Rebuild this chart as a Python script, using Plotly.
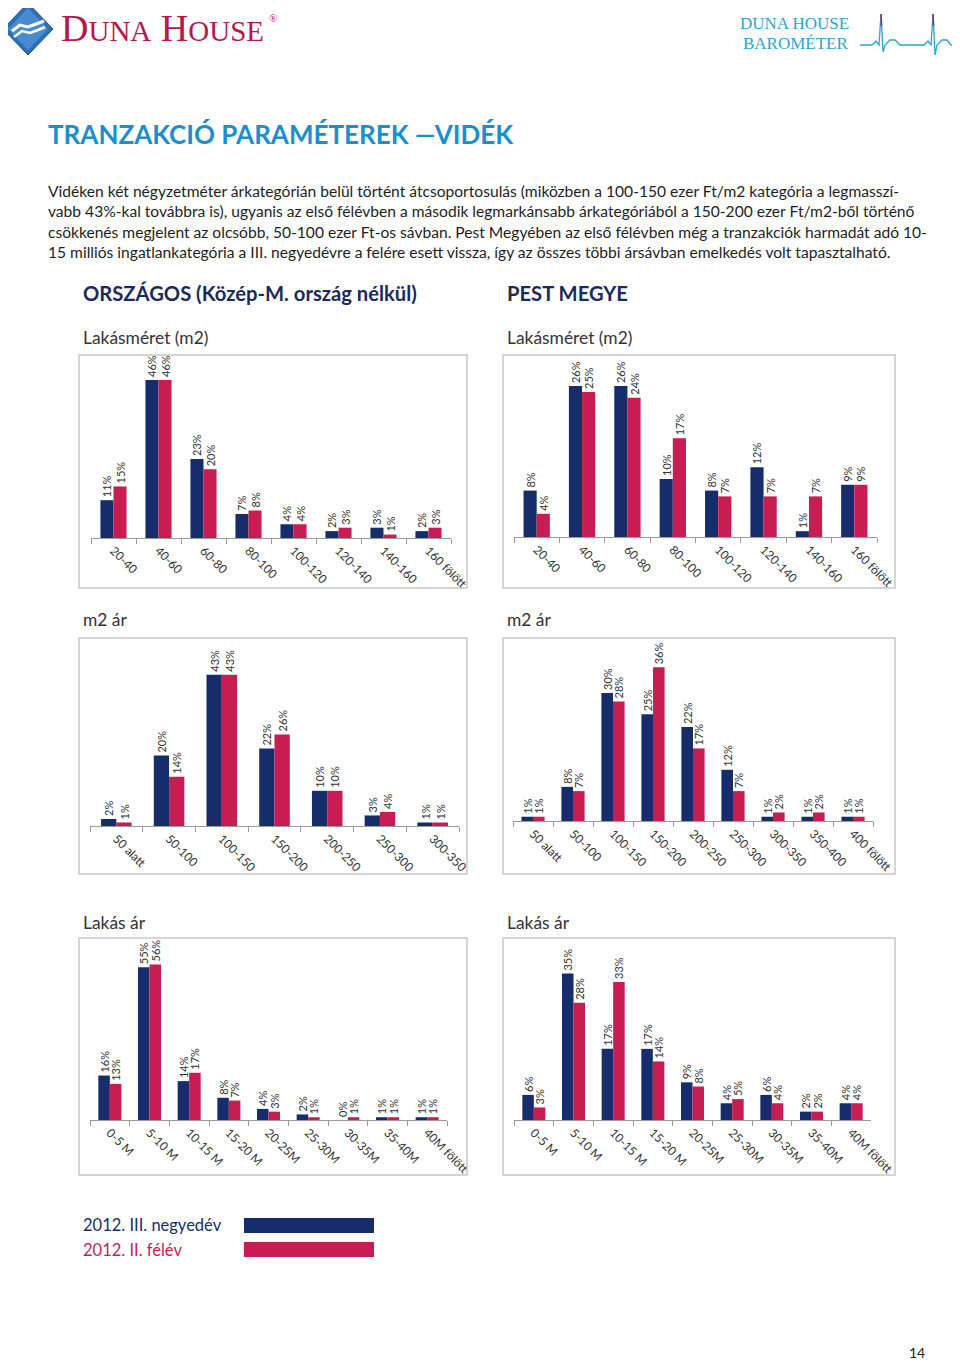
import plotly.graph_objects as go

# ---------------- data ----------------
series_names = ["2012. III. negyedév", "2012. II. félév"]

size_cats = ["20-40", "40-60", "60-80", "80-100", "100-120", "120-140", "140-160", "160 fölött"]
orsz_size_q3 = [11, 46, 23, 7, 4, 2, 3, 2]
orsz_size_h2 = [15, 46, 20, 8, 4, 3, 1, 3]
pest_size_q3 = [8, 26, 26, 10, 8, 12, 1, 9]
pest_size_h2 = [4, 25, 24, 17, 7, 7, 7, 9]

orsz_m2_cats = ["50 alatt", "50-100", "100-150", "150-200", "200-250", "250-300", "300-350"]
orsz_m2_q3 = [2, 20, 43, 22, 10, 3, 1]
orsz_m2_h2 = [1, 14, 43, 26, 10, 4, 1]

pest_m2_cats = ["50 alatt", "50-100", "100-150", "150-200", "200-250", "250-300", "300-350", "350-400", "400 fölött"]
pest_m2_q3 = [1, 8, 30, 25, 22, 12, 1, 1, 1]
pest_m2_h2 = [1, 7, 28, 36, 17, 7, 2, 2, 1]

price_cats = ["0-5 M", "5-10 M", "10-15 M", "15-20 M", "20-25M", "25-30M", "30-35M", "35-40M", "40M fölött"]
orsz_price_q3 = [16, 55, 14, 8, 4, 2, 0, 1, 1]
orsz_price_h2 = [13, 56, 17, 7, 3, 1, 1, 1, 1]
pest_price_q3 = [6, 35, 17, 17, 9, 4, 6, 2, 4]
pest_price_h2 = [3, 28, 33, 14, 8, 5, 4, 2, 4]

NAVY = "#172d6b"
CRIMSON = "#c81d52"
# the page body keeps its default 8px margin, so the figure is sized to fit inside the window
OFF = 8
W, H = 944, 1355
FONT = "Lato"


def X(px):
    return (px - OFF) / W


def Y(py):
    return 1 - (py - OFF) / H


fig = go.Figure()

# chart definitions: (cats, q3, h2, x-domain px, (baseline px, top px), ymax)
charts = [
    (size_cats, orsz_size_q3, orsz_size_h2, (91, 451), (538, 360), 51.8),
    (size_cats, pest_size_q3, pest_size_h2, (514, 877), (537, 360), 30.5),
    (orsz_m2_cats, orsz_m2_q3, orsz_m2_h2, (90, 459), (826, 643), 52.0),
    (pest_m2_cats, pest_m2_q3, pest_m2_h2, (513, 873), (821, 643), 41.7),
    (price_cats, orsz_price_q3, orsz_price_h2, (90, 447), (1120, 943), 63.7),
    (price_cats, pest_price_q3, pest_price_h2, (514, 871), (1120, 943), 42.3),
]

layout_axes = {}
for i, (cats, q3, h2, xd, yd, ymax) in enumerate(charts, start=1):
    sfx = "" if i == 1 else str(i)
    for name, vals, col in ((series_names[0], q3, NAVY), (series_names[1], h2, CRIMSON)):
        fig.add_trace(go.Bar(
            x=cats, y=vals, name=name, marker_color=col, marker_line_width=0,
            text=[f"{v}%" for v in vals], textposition="outside", textangle=-90,
            textfont=dict(family=FONT, size=11, color="#333333"),
            constraintext="none", cliponaxis=False, showlegend=False,
            xaxis="x" + sfx, yaxis="y" + sfx, offsetgroup=name,
        ))
    layout_axes["xaxis" + sfx] = dict(
        domain=[X(xd[0]), X(xd[1])], anchor="y" + sfx, type="category",
        showline=True, linecolor="#9a9a9a", linewidth=1,
        ticks="outside", tickson="boundaries", ticklen=5, tickcolor="#9a9a9a",
        tickangle=45, tickfont=dict(family=FONT, size=12, color="#333333"),
        showgrid=False, zeroline=False, fixedrange=True, automargin=False,
    )
    layout_axes["yaxis" + sfx] = dict(
        domain=[Y(yd[0]), Y(yd[1])], anchor="x" + sfx, range=[0, ymax],
        visible=False, showgrid=False, zeroline=False, fixedrange=True, automargin=False,
    )

shapes = []
# chart frames
for (x0, x1) in ((79, 467), (503, 895)):
    for (y0, y1) in ((355, 588), (638, 874), (938, 1175)):
        shapes.append(dict(type="rect", xref="paper", yref="paper",
                           x0=X(x0), x1=X(x1), y0=Y(y1), y1=Y(y0),
                           line=dict(color="#c8c8c8", width=1.5), fillcolor="rgba(0,0,0,0)"))

# legend swatches
shapes.append(dict(type="rect", xref="paper", yref="paper", x0=X(244), x1=X(374), y0=Y(1233), y1=Y(1218),
                   fillcolor=NAVY, line=dict(width=0)))
shapes.append(dict(type="rect", xref="paper", yref="paper", x0=X(244), x1=X(374), y0=Y(1257), y1=Y(1242),
                   fillcolor=CRIMSON, line=dict(width=0)))


def path(points, close=False):
    s = "M " + " L ".join(f"{X(px):.5f},{Y(py):.5f}" for px, py in points)
    return s + (" Z" if close else "")


# logo diamond
shapes.append(dict(type="path", xref="paper", yref="paper",
                   path=path([(28, 3), (53, 29), (28, 55), (3, 29)], close=True),
                   fillcolor="#2f6fb6", line=dict(color="#1d4f94", width=1)))
shapes.append(dict(type="path", xref="paper", yref="paper",
                   path=path([(28, 8), (48, 29), (28, 50), (8, 29)], close=True),
                   fillcolor="#4a8bd0", line=dict(width=0)))
shapes.append(dict(type="path", xref="paper", yref="paper",
                   path=path([(12, 31), (20, 25), (28, 27), (36, 24), (44, 21)]),
                   line=dict(color="white", width=3)))
shapes.append(dict(type="path", xref="paper", yref="paper",
                   path=path([(14, 37), (22, 31), (30, 33), (38, 30), (45, 27)]),
                   line=dict(color="white", width=2.5)))

# heartbeat line
hb = [(860, 45), (872, 45), (876, 41), (879, 45), (881, 14), (883, 52), (885, 45), (890, 40),
      (895, 40), (900, 45), (915, 45), (924, 45), (928, 41), (931, 45), (933, 14), (935, 55),
      (937, 45), (942, 40), (947, 40), (951, 45), (952, 45)]
shapes.append(dict(type="path", xref="paper", yref="paper", path=path(hb),
                   line=dict(color="#2aa6c9", width=1.3)))
shapes.append(dict(type="path", xref="paper", yref="paper", path=path([(881, 14), (881.6, 26)]),
                   line=dict(color="#b2204f", width=1.5)))
shapes.append(dict(type="path", xref="paper", yref="paper", path=path([(933, 14), (933.6, 26)]),
                   line=dict(color="#b2204f", width=1.5)))

annotations = []


def txt(text, x, y, size, color, bold=False, family=FONT, xanchor="left"):
    annotations.append(dict(
        text=f"<b>{text}</b>" if bold else text, x=X(x), y=Y(y), xref="paper", yref="paper",
        xanchor=xanchor, yanchor="middle", showarrow=False,
        font=dict(family=family, size=size, color=color),
    ))


# header logos
txt("D<span style='font-size:29px'>UNA</span> H<span style='font-size:29px'>OUSE</span>",
    59, 28, 38, "#b8174b", family="Liberation Serif")
txt("®", 267, 18, 11, "#b8174b", family="Liberation Serif")
txt("DUNA HOUSE", 851, 24, 17, "#2ea3d6", family="Liberation Serif", xanchor="right")
txt("BAROMÉTER", 851, 44, 17, "#2ea3d6", family="Liberation Serif", xanchor="right")

# title & paragraph
txt("TRANZAKCIÓ PARAMÉTEREK —VIDÉK", 46, 134, 26, "#1a8fd0", bold=True)
para = [
    "Vidéken két négyzetméter árkategórián belül történt átcsoportosulás (miközben a 100-150 ezer Ft/m2 kategória a legmasszí-",
    "vabb 43%-kal továbbra is), ugyanis az első félévben a második legmarkánsabb árkategóriából a 150-200 ezer Ft/m2-ből történő",
    "csökkenés megjelent az olcsóbb, 50-100 ezer Ft-os sávban. Pest Megyében az első félévben még a tranzakciók harmadát adó 10-",
    "15 milliós ingatlankategória a III. negyedévre a felére esett vissza, így az összes többi ársávban emelkedés volt tapasztalható.",
]
for k, line in enumerate(para):
    txt(line, 46, 191 + k * 20.3, 15.6, "#1e1e1e")

# section headings
txt("ORSZÁGOS (Közép-M. ország nélkül)", 81, 293, 20.2, "#1b2a5e", bold=True)
txt("PEST MEGYE", 505, 293, 20.2, "#1b2a5e", bold=True)
for sx in (81, 505):
    txt("Lakásméret (m2)", sx, 337, 17.4, "#333333")
    txt("m2 ár", sx, 619, 17.4, "#333333")
    txt("Lakás ár", sx, 922, 17.4, "#333333")

# legend
txt(series_names[0], 81, 1225, 16.5, NAVY)
txt(series_names[1], 81, 1250, 16.5, CRIMSON)

# page number
txt("14", 927, 1352, 14, "#222222", xanchor="right")

fig.update_layout(
    width=W, height=H, margin=dict(l=0, r=0, t=0, b=0, pad=0, autoexpand=False),
    paper_bgcolor="white", plot_bgcolor="white",
    barmode="group", bargap=0.42, bargroupgap=0,
    shapes=shapes, annotations=annotations, showlegend=False,
    font=dict(family=FONT),
    **layout_axes,
)

fig.write_html("out.html")
